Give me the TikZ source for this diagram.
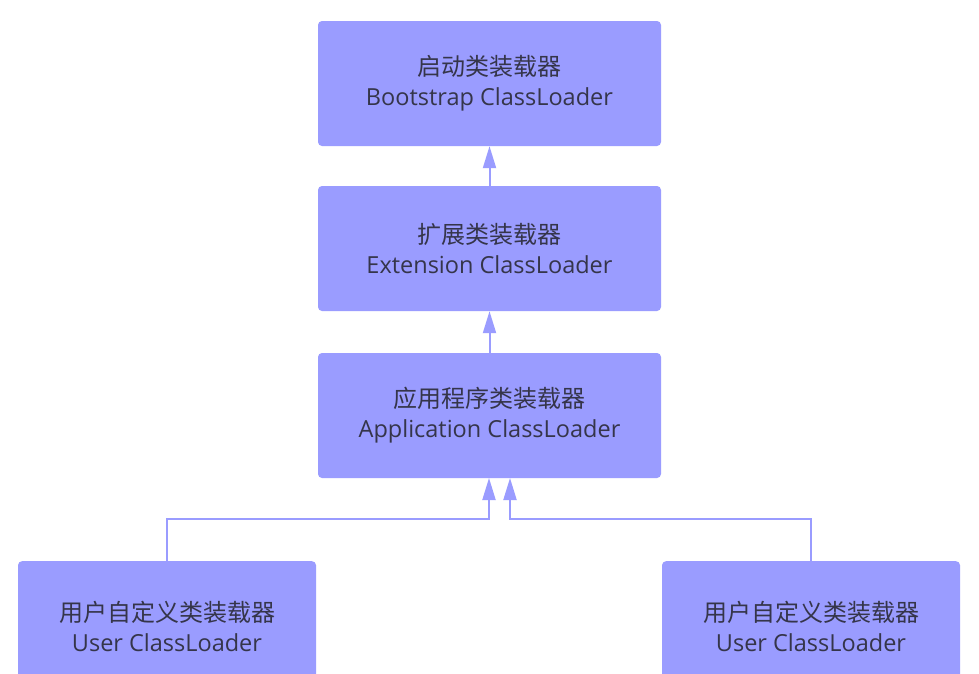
\documentclass[tikz,border=0pt]{standalone}
\usepackage{fontspec}
\setmainfont{Open Sans}
\newfontfamily\cjk{Noto Sans CJK SC}
\usetikzlibrary{arrows.meta}
\definecolor{boxfill}{HTML}{9A9CFF}
\definecolor{linecol}{HTML}{9A9CFF}
\definecolor{txt}{HTML}{35354A}
\begin{document}
\begin{tikzpicture}[x=1pt,y=-1pt,
  loader/.style={fill=boxfill, draw=none, rounded corners=4pt, inner sep=0pt,
    text=txt, align=center, font=\fontsize{23.5}{30}\selectfont},
  link/.style={draw=linecol, line width=2pt,
    -{Triangle[length=22pt,width=13pt]}}]
\useasboundingbox (0,0) rectangle (979,673);
\fill[white] (0,0) rectangle (979,673);
\clip (0,0) rectangle (979,673);
\node[loader, minimum width=343pt, minimum height=125pt] (boot) at (489.5,83.5)
  {{\cjk\fontsize{24}{30}\selectfont 启动类装载器}\\Bootstrap ClassLoader};
\node[loader, minimum width=343pt, minimum height=125pt] (ext) at (489.5,248.5)
  {{\cjk\fontsize{24}{30}\selectfont 扩展类装载器}\\Extension ClassLoader};
\node[loader, minimum width=343pt, minimum height=125pt] (app) at (489.5,415.5)
  {{\cjk\fontsize{24}{30}\selectfont 应用程序类装载器}\\Application ClassLoader};
\node[loader, minimum width=298pt, minimum height=130pt, anchor=north] (u1) at (167,561)
  {{\cjk\fontsize{24}{30}\selectfont 用户自定义类装载器}\\User ClassLoader};
\node[loader, minimum width=298pt, minimum height=130pt, anchor=north] (u2) at (811,561)
  {{\cjk\fontsize{24}{30}\selectfont 用户自定义类装载器}\\User ClassLoader};
\coordinate (a1) at (489,478);
\coordinate (a2) at (510,478);
\draw[link] (ext.north) -- (boot.south);
\draw[link] (app.north) -- (ext.south);
\draw[link] (u1.north) -- (167,519) -- (489,519) -- (a1);
\draw[link] (u2.north) -- (811,519) -- (510,519) -- (a2);
\end{tikzpicture}
\end{document}
